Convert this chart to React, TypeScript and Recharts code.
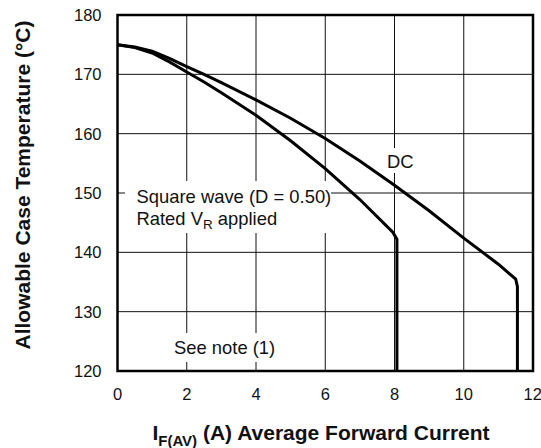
import { CartesianGrid, Line, LineChart, ReferenceArea, XAxis, YAxis } from "recharts";

const xTicks = [0, 2, 4, 6, 8, 10, 12];
const yTicks = [120, 130, 140, 150, 160, 170, 180];

// DC curve
const dcCurrent = [0, 0.5, 1, 1.5, 2, 2.5, 3, 4, 5, 6, 7, 8, 9, 10, 11, 11.5, 11.55, 11.55];
const dcTemp = [175, 174.6, 173.9, 172.7, 171.3, 170, 168.6, 165.7, 162.6, 159.2, 155.4, 151.3, 147, 142.4, 138, 135.5, 134.2, 120];

// square wave (D = 0.50)
const sqCurrent = [0, 0.5, 1, 1.5, 2, 2.5, 3, 4, 5, 6, 7, 7.95, 8.07, 8.07];
const sqTemp = [175, 174.5, 173.6, 172.1, 170.4, 168.7, 166.9, 163.1, 158.8, 154.1, 148.9, 143.4, 142.2, 120];

const dcRows = dcCurrent.map((i, k) => ({ i, t: dcTemp[k] }));
const sqRows = sqCurrent.map((i, k) => ({ i, t: sqTemp[k] }));

const font = "'Liberation Sans', Arial, Helvetica, sans-serif";

export default function App() {
  return (
    <div style={{ position: "absolute", left: 0, top: 0, width: 541, height: 448, background: "#fff", fontFamily: font }}>
      <LineChart width={541} height={448} margin={{ top: 15, right: 8, bottom: 47, left: 57.5 }}>
        <CartesianGrid stroke="#111" strokeWidth={1} />
        <XAxis
          type="number"
          dataKey="i"
          domain={[0, 12]}
          ticks={xTicks}
          tickLine={false}
          axisLine={false}
          tickMargin={11}
          height={30}
          tick={{ fill: "#111", fontSize: 16.5, fontFamily: font }}
        />
        <YAxis
          type="number"
          domain={[120, 180]}
          ticks={yTicks}
          tickLine={false}
          axisLine={false}
          tickMargin={10}
          width={60}
          tick={{ fill: "#111", fontSize: 16.5, fontFamily: font }}
        />
        <Line data={sqRows} dataKey="t" type="linear" stroke="#000" strokeWidth={3} dot={false} isAnimationActive={false} />
        <Line data={dcRows} dataKey="t" type="linear" stroke="#000" strokeWidth={3} dot={false} isAnimationActive={false} />
        <ReferenceArea x1={0} x2={12} y1={120} y2={180} fill="none" fillOpacity={0} stroke="#000" strokeWidth={2.5} />
      </LineChart>
      <svg width={541} height={448} style={{ position: "absolute", left: 0, top: 0, pointerEvents: "none" }}>
        <rect x={125} y={181} width={206} height={52} fill="#fff" />
        <rect x={382} y={148} width={34} height={25} fill="#fff" />
        <rect x={170} y={333} width={112} height={29} fill="#fff" />
        <g fontFamily={font} fill="#111" fontSize={18.4}>
          <text x={387} y={168}>DC</text>
          <text x={136.5} y={203}>Square wave (D = 0.50)</text>
          <text x={136.5} y={225}>
            Rated V<tspan fontSize={13.5} dy={4}>R</tspan>
            <tspan dy={-4}> applied</tspan>
          </text>
          <text x={174} y={354}>See note (1)</text>
        </g>
        <text
          x={22}
          y={185}
          transform="rotate(-90 22 185)"
          textAnchor="middle"
          dominantBaseline="central"
          fontFamily={font}
          fontWeight="bold"
          fontSize={21}
          fill="#111"
        >
          Allowable Case Temperature (°C)
        </text>
        <text x={321} y={440} textAnchor="middle" fontFamily={font} fontWeight="bold" fontSize={21} fill="#111">
          I<tspan fontSize={15} dy={6}>F(AV)</tspan>
          <tspan dy={-6}> (A) Average Forward Current</tspan>
        </text>
      </svg>
    </div>
  );
}
